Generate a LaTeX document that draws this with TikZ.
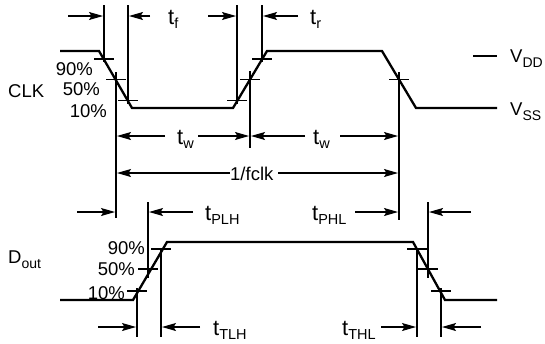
\documentclass[tikz,border=0pt]{standalone}
\usepackage{fontspec}
\setmainfont{Liberation Sans}
\usetikzlibrary{arrows.meta}
\tikzset{>={Stealth[length=14pt,width=8pt,inset=2.5pt]}}
\tikzset{
  wave/.style={line width=2.3pt, line join=miter},
  guide/.style={line width=1.1pt},
  dim/.style={->, line width=1.1pt},
  lbl/.style={inner sep=0pt, anchor=base west, font=\fontsize{18.5}{20}\selectfont},
  pct/.style={inner sep=0pt, anchor=base east, font=\fontsize{18.5}{20}\selectfont},
}
\newcommand{\lowsub}[1]{\raisebox{-5pt}{\fontsize{14}{14}\selectfont #1}}
\newcommand{\tlbl}[1]{{\fontsize{22}{22}\selectfont t}\raisebox{-4pt}{\fontsize{14.5}{15}\selectfont #1}}

\begin{document}
\begin{tikzpicture}[x=1pt, y=-1pt]
            \useasboundingbox (0,0) rectangle (545,343);

            % Waveforms CLK and D_out
            \draw[wave] (60,51) -- (99,51) -- (132,108) -- (233,108) -- (267,51) -- (382,51) -- (416,108) -- (497,108);  % CLK
            \draw[wave] (60,300) -- (133,300) -- (167,242) -- (413,242) -- (445,300) -- (497,300);  % D_out
            \draw[guide] (473,56) -- (497,56);  % V_DD mark

            % Guide lines at the 90%, 50% and 10% points (CLK)
            \draw[guide] (104,5) -- (104,62);
            \draw[guide] (128,5) -- (128,104);
            \draw[guide] (116,72) -- (116,218);
            \draw[guide] (237,5) -- (237,104);
            \draw[guide] (262,5) -- (262,62);
            \draw[guide] (250,71) -- (250,148);
            \draw[guide] (399,72) -- (399,220);

            % Guide lines (D_out)
            \draw[guide] (148,202) -- (148,278);
            \draw[guide] (137,288) -- (137,337);
            \draw[guide] (161,248) -- (161,337);
            \draw[guide] (428,202) -- (428,278);
            \draw[guide] (417,248) -- (417,337);
            \draw[guide] (441,288) -- (441,337);

            % Level ticks
            \draw[guide] (94,59) -- (114,59);
            \draw[guide] (106,79.5) -- (126,79.5);
            \draw[guide] (118,100.5) -- (138,100.5);
            \draw[guide] (227,100.5) -- (247,100.5);
            \draw[guide] (240,79.5) -- (260,79.5);
            \draw[guide] (252,59) -- (272,59);
            \draw[guide] (389,79.5) -- (409,79.5);
            \draw[guide] (127,291) -- (147,291);
            \draw[guide] (138,269) -- (158,269);
            \draw[guide] (151,249) -- (171,249);
            \draw[guide] (407,249) -- (427,249);
            \draw[guide] (418,269) -- (438,269);
            \draw[guide] (431,291) -- (451,291);

            % Timing arrows
            \draw[dim] (68,16) -- (103,16);
            \draw[dim] (150,16) -- (129,16);
            \draw[dim] (208,16) -- (236,16);
            \draw[dim] (298,16) -- (263,16);
            \draw[dim] (165,136) -- (117,136);
            \draw[dim] (198,136) -- (249,136);
            \draw[dim] (305,136) -- (251,136);
            \draw[dim] (340,136) -- (398,136);
            \draw[dim] (230,173) -- (117,173);
            \draw[dim] (278,173) -- (398,173);
            \draw[dim] (77,212) -- (115,212);
            \draw[dim] (193,212) -- (149,212);
            \draw[dim] (355,212) -- (398,212);
            \draw[dim] (471,212) -- (429,212);
            \draw[dim] (98,327) -- (136,327);
            \draw[dim] (200,327) -- (162,327);
            \draw[dim] (381,327) -- (416,327);
            \draw[dim] (481,327) -- (442,327);

            % Labels
            \node[lbl] (tf) at (168,24) {\tlbl{f}};
            \node[lbl] (tr) at (310,24) {\tlbl{r}};
            \node[lbl] (tw1) at (177,144) {\tlbl{w}};
            \node[lbl] (tw2) at (313,144) {\tlbl{w}};
            \node[lbl] (fclk) at (230,180) {1/fclk};
            \node[lbl] (tplh) at (205,220) {\tlbl{PLH}};
            \node[lbl] (tphl) at (312,220) {\tlbl{PHL}};
            \node[lbl] (ttlh) at (213,335) {\tlbl{TLH}};
            \node[lbl] (tthl) at (342,335) {\tlbl{THL}};
            \node[lbl] (clk) at (8,97) {CLK};
            \node[lbl] (dout) at (8,263) {D\lowsub{out}};
            \node[lbl] (vdd) at (510,62) {V\lowsub{DD}};
            \node[lbl] (vss) at (510,115) {V\lowsub{SS}};

            % Percent levels
            \node[pct] (c90) at (93,75) {90\%};
            \node[pct] (c50) at (100,95) {50\%};
            \node[pct] (c10) at (107,117) {10\%};
            \node[pct] (d90) at (145,254) {90\%};
            \node[pct] (d50) at (135,275) {50\%};
            \node[pct] (d10) at (125,299) {10\%};

        \end{tikzpicture}
\end{document}
